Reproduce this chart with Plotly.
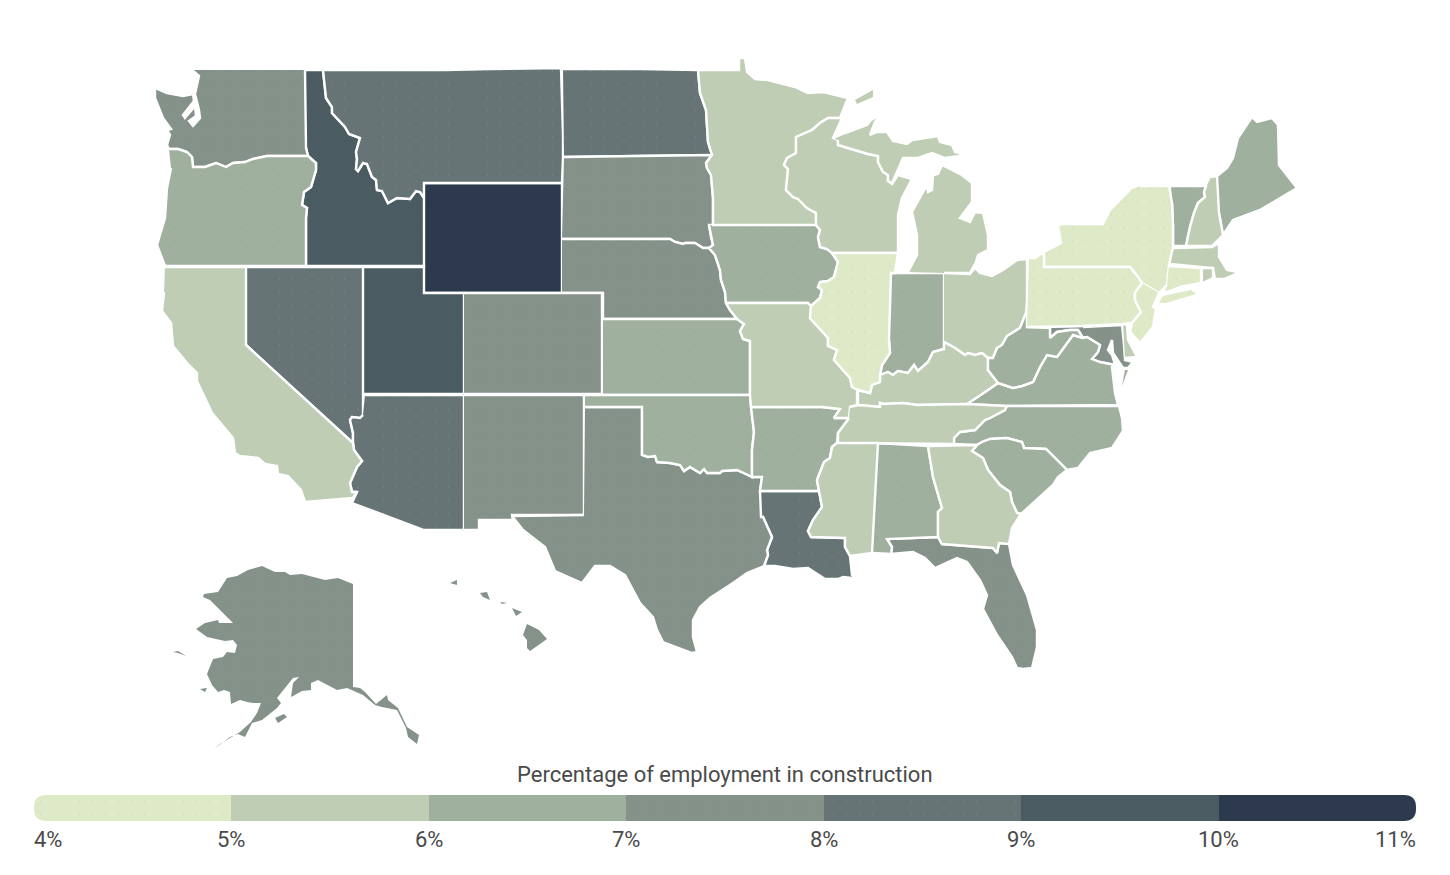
import plotly.graph_objects as go

# no network here so the plotly topojson cant load, outlines are traced by hand from the picture

state_names = ['WY','ID','UT','MT','ND','NV','AZ','LA','MD','WA','SD','NE','CO','NM','TX','FL','AK','HI','OR','IA','KS','OK','IN','VA','NC','SC','AL','AR','ME','VT','DE','CA','MN','WI','MI','OH','MO','KY','TN','MS','GA','WV','MA','NH','RI','IL','NY','PA','NJ','CT']
state_values = [10.4,9.3,9.2,8.5,8.4,8.6,8.2,8.3,7.6,7.5,7.3,7.2,7.6,7.1,7.4,7.5,7.3,7.2,6.7,6.3,6.1,6.2,6.4,6.5,6.4,6.6,6.2,6.1,6.8,6.9,5.5,5.5,5.4,5.6,5.3,5.2,5.6,5.3,5.4,5.7,5.5,6.3,5.4,5.9,5.1,4.8,4.5,4.9,4.7,4.6]

bin_edges = [4,5,6,7,8,9,10,11]
bin_colors = ['#dde9c7','#bfcdb4','#9fb09f','#84928a','#667476','#4a5b62','#2d3a4e']
dot_colors = ['#b9c6b6','','#84968a','#6c7a73','#84928f','#5f7078','']
tick_labels = ['4%','5%','6%','7%','8%','9%','10%','11%']
legend_title = 'Percentage of employment in construction'

# shared borders
wa_or = [(308,156),(267,156),(253,159),(245,162),(233,163),(226,167),(216,163),(205,167),(193,167),(192,157),(187,152),(178,149),(169,149)]
or_id = [(308,156),(316,163),(316,170),(311,187),(304,192),(302,205),(307,208),(306,218)]
id_mt = [(323,70),(326,98),(332,107),(332,113),(345,127),(349,134),(360,138),(356,152),(357,159),(356,169),(358,171),(363,163),(367,164),(372,177),(376,180),(377,190),(382,191),(388,203),(397,198),(410,199),(416,191),(420,192),(424,198)]
mn_nd = [(698,70),(700,93),(706,110),(707,127),(708,142),(712,155)]
mn_sd = [(712,155),(706,163),(707,168),(711,175),(713,198),(713,225)]
sd_ia = [(713,225),(709,225),(711,237),(713,245),(709,248)]
sd_ne = [(562,239),(670,239),(675,242),(683,244),(685,243),(695,243),(703,248),(709,248)]
ia_ne = [(709,248),(715,255),(720,270),(721,280),(725,292),(726,303)]
mn_wi = [(828,118),(820,123),(812,130),(796,137),(796,153),(787,158),(784,165),(788,169),(786,190),(793,197),(798,199),(807,208),(816,213),(816,225)]
ia_wi = [(816,225),(820,230),(818,237),(820,247),(827,249),(832,253)]
ia_il = [(832,253),(838,262),(834,277),(828,281),(820,282),(818,287),(822,290),(820,298),(811,306)]
il_mo = [(811,306),(810,318),(828,338),(828,346),(837,350),(834,360),(850,378),(852,387),(858,390)]
il_ky = [(858,390),(870,393),(872,385),(880,382),(880,375)]
in_ky = [(880,375),(888,372),(893,375),(898,371),(908,373),(914,365),(918,371),(928,362),(933,352),(944,349),(944,342)]
ky_oh = [(944,342),(955,348),(965,355),(968,353),(975,355),(982,353),(988,358)]
ky_wv = [(988,358),(988,370),(998,383)]
ky_va = [(998,383),(985,392),(967,404)]
ky_tn = [(858,405),(880,407),(880,403),(883,404),(903,403),(917,405),(967,404)]
tn_nc = [(1007,406),(1005,410),(990,418),(985,420),(975,430),(960,432),(954,438),(954,444)]
ne_mo = [(726,303),(730,310),(737,319)]
ks_mo = [(737,319),(744,324),(740,331),(743,339),(750,341),(750,395)]
ok_ar = [(751,407),(754,432),(752,450),(752,477)]
ok_tx = [(642,407),(642,455),(648,457),(655,456),(657,462),(670,463),(680,465),(684,471),(690,467),(700,473),(704,469),(707,473),(720,473),(722,471),(737,470),(748,475),(752,477)]
ar_tx = [(752,477),(762,477),(760,491)]
la_tx = [(760,491),(761,517),(763,517),(772,537),(767,550),(768,555),(764,566)]
mo_ar = [(751,407),(822,407),(840,409),(834,418),(849,418)]
ar_tn = [(849,418),(847,421),(838,433),(837,443)]
ar_ms = [(837,443),(832,447),(830,458),(824,462),(817,480),(819,491)]
la_ms = [(819,491),(822,507),(813,520),(808,531),(811,537),(845,538),(845,547),(850,556)]
ms_al = [(878,443),(872,553)]
al_ga = [(928,446),(933,477),(942,508),(938,512),(938,537)]
al_fl = [(938,537),(887,539),(892,547),(891,554)]
ga_fl = [(938,537),(942,544),(993,548),(997,553),(999,543),(1009,544)]
ga_sc = [(977,445),(972,451),(983,458),(988,470),(1000,485),(1010,492),(1012,502),(1017,513),(1021,514)]
nc_sc = [(977,445),(982,442),(990,439),(1007,438),(1022,442),(1024,448),(1046,449),(1067,470)]
va_wv = [(1073,335),(1057,357),(1047,355),(1040,367),(1033,382),(1022,386),(1013,388),(1007,386),(998,383)]
oh_wv = [(988,358),(993,358),(997,348),(1002,345),(1007,336),(1020,328),(1026,313),(1027,302)]
md_wv = [(1050,328),(1050,338),(1057,332),(1070,330),(1078,330),(1083,338)]
md_va = [(1083,338),(1087,337),(1095,342),(1100,345),(1098,352),(1092,359),(1100,362),(1115,365)]
ny_pa = [(1044,267),(1130,267),(1135,273),(1138,277),(1142,283)]
pa_nj = [(1142,283),(1135,293),(1135,300),(1141,312),(1132,323)]
vt_nh = [(1206,186),(1204,192),(1205,197),(1198,203),(1194,213),(1190,227),(1186,246)]
nh_me = [(1217,176),(1219,213),(1223,235)]
ct_ny = [(1169,265),(1167,285),(1164,288),(1165,293)]

# state outlines, None starts another island
WA = [(305,70),(306,148)] + wa_or + [(167,145),(170,135),(167,130),(171,129),(163,118),(155,98),(155,88),(167,93),(183,96),(193,94),(194,101),(183,115),(185,118),(195,106),(196,116),(189,121),(193,126),(200,118),(199,110),(195,94),(197,83),(199,76),(192,70)]
OR = wa_or[::-1] + or_id + [(306,266),(165,266),(157,245),(165,218),(167,188),(171,168)]
ID = [(306,70)] + id_mt + [(424,266),(306,266)] + or_id[::-1] + [(306,148)]
WY = [(424,183),(562,183),(562,293),(424,293)]
MT = [(323,70),(445,70),(490,69),(561,68),(563,135),(563,157),(562,183),(424,183)] + id_mt[::-1]
ND = [(563,69),(640,69)] + mn_nd + [(564,157)]
SD = [(564,157)] + mn_sd + sd_ia[1:] + sd_ne[::-1]
NE = sd_ne + ia_ne + ne_mo + [(603,319),(603,293),(562,293)]
MN = mn_nd[:1] + [(739,70),(739,58),(745,58),(747,72),(755,79),(768,80),(795,87),(808,93),(823,92),(848,98),(840,118)] + mn_wi + [(713,225)] + mn_sd[::-1][1:] + mn_nd[::-1][1:]
WI = mn_wi[::-1] + [(828,118),(842,118),(833,138),(838,140),(838,145),(868,154),(878,156),(878,162),(883,172),(888,175),(888,181),(892,184),(898,175),(912,179),(902,198),(898,215),(898,253),(832,253)] + ia_wi[::-1]
IA = sd_ia[1:] + ia_ne[1:] + [(808,303),(811,306)] + ia_il[::-1] + ia_wi[::-1]
IL = [(832,253),(898,253),(895,273),(891,273),(889,340),(890,353),(882,365)] + il_ky[::-1] + il_mo[::-1] + ia_il[::-1]
IN = [(891,273),(944,273)] + in_ky[::-1] + [(882,365),(890,353),(889,340)]
MI = [(945,273),(970,273),(976,262),(978,255),(988,250),(988,235),(983,213),(975,212),(970,222),(960,218),(972,202),(972,183),(962,175),(942,165),(938,174),(933,175),(932,190),(928,192),(927,185),(912,212),(917,235),(917,255),(908,272),None,
      (833,138),(845,133),(867,125),(871,120),(883,114),(875,122),(870,135),(877,132),(887,132),(893,141),(907,144),(912,140),(932,137),(938,136),(940,142),(952,145),(955,152),(967,155),(945,158),(932,153),(918,158),(903,158),(900,165),(892,183),(888,181),(888,175),(883,172),(878,162),(878,156),(868,154),(838,145),(838,140)]
OH = [(944,273),(970,274),(975,268),(980,273),(992,276),(1003,270),(1017,260),(1027,259)] + oh_wv[::-1] + ky_oh[::-1]
KY = [(858,390),(858,405)] + ky_tn + ky_va[::-1] + ky_wv[::-1] + ky_oh[::-1] + in_ky[::-1] + il_ky[::-1]
TN = [(850,407)] + ky_tn + tn_nc + [(838,443)] + ar_tn[::-1][1:]
MO = [(726,303),(808,303)] + il_mo[:1] + il_mo[1:] + [(857,393),(857,405),(850,407)] + mo_ar[::-1] + [(750,395)] + ks_mo[::-1] + ne_mo[::-1]
KS = [(603,319)] + ks_mo + [(603,395)]
CO = [(464,293),(602,293),(602,394),(464,394)]
UT = [(364,267),(424,267),(424,293),(464,293),(464,394),(364,394)]
NV = [(246,267),(363,267),(363,415),(360,418),(352,417),(350,420),(353,433),(353,443),(246,345)]
CA = [(165,267),(246,267),(246,345),(353,443),(354,450),(362,461),(357,467),(350,483),(352,492),(357,492),(353,498),(305,502),(301,490),(288,476),(278,474),(277,466),(265,464),(258,458),(240,456),(235,453),(233,438),(212,413),(197,381),(197,373),(187,363),(173,346),(171,323),(162,311),(164,292)]
AZ = [(365,395),(464,395),(464,530),(424,530),(352,503),(357,492),(352,492),(350,483),(357,467),(362,461),(354,450),(353,443),(353,433),(350,420),(352,417),(360,418),(363,415)]
NM = [(464,395),(584,395),(584,515),(512,515),(513,520),(479,520),(479,530),(464,530)]
OK = [(585,395),(750,395),(751,407)] + ok_ar[1:] + ok_tx[::-1][1:] + [(642,407),(585,407)]
TX = [(585,407)] + ok_tx + ar_tx[1:] + la_tx[1:] + [(747,573),(733,583),(710,598),(700,607),(693,620),(693,637),(697,652),(692,653),(663,642),(657,630),(653,617),(640,603),(625,575),(610,566),(595,566),(582,583),(555,571),(545,547),(523,530),(512,516),(584,515)]
AR = mo_ar + ar_tn[1:] + ar_ms[1:] + [(760,491)] + ar_tx[::-1][1:] + ok_ar[::-1][1:]
LA = [(760,491)] + la_ms + [(852,575),(854,577),(852,578),(843,577),(838,579),(825,579),(808,568),(793,569),(775,566)] + la_tx[::-1][:-1]
MS = [(837,443),(878,443),(872,553),(850,556)] + la_ms[::-1][1:] + ar_ms[::-1][1:]
AL = [(878,443),(928,446)] + al_ga[1:] + al_fl[1:] + [(872,553)]
GA = [(928,446),(977,445)] + ga_sc[1:] + [(1012,528),(1009,544)] + ga_fl[::-1][1:] + al_ga[::-1][1:]
FL = al_fl[:2] + al_fl[2:] + [(913,552),(925,558),(935,568),(957,558),(967,562),(980,580),(987,595),(983,609),(997,635),(1012,657),(1017,668),(1023,669),(1032,668),(1037,647),(1037,630),(1027,595),(1013,565)] + ga_fl[::-1]
SC = ga_sc + [(1053,485),(1058,477),(1067,470)] + nc_sc[::-1][1:]
NC = [(1007,406),(1119,406),(1122,418),(1123,431),(1112,448),(1090,453),(1078,468),(1067,470)] + nc_sc[::-1][1:] + tn_nc[::-1][:-1]
VA = ky_va[1:] + [(1007,406),(1118,405),(1115,393),(1112,367)] + md_va[::-1] + [(1073,335)] + va_wv[1:] + ky_va[1:2]
WV = [(1027,302),(1027,327)] + md_wv + [(1073,335)] + va_wv[1:] + ky_wv[::-1][1:] + oh_wv[1:-1]
MD = md_wv + md_va[1:] + [(1112,355),(1108,350),(1112,340),(1113,353),(1123,368),(1128,368),(1133,362),(1125,360),(1124,345),(1122,325),(1083,327)]
DE = [(1123,324),(1127,325),(1128,340),(1137,357),(1125,358)]
PA = [(1029,258),(1035,258),(1044,252)] + ny_pa + pa_nj[1:] + [(1130,323),(1123,324),(1083,326),(1027,327)]
NJ = pa_nj + [(1130,332),(1140,343),(1153,327),(1156,308),(1153,307),(1159,293)]
NY = [(1140,186),(1169,186),(1172,203),(1173,225),(1173,247)] + ct_ny[:1] + ct_ny[1:3] + [(1159,293)] + ny_pa[::-1] + [(1044,252),(1061,243),(1058,226),(1062,224),(1103,224),(1110,210),(1130,190)]
VT = [(1171,186)] + vt_nh + [(1173,246),(1173,225),(1172,203)]
NH = [(1211,177),(1217,176)] + nh_me[1:] + [(1220,238),(1212,246)] + vt_nh[::-1] + [(1207,185)]
ME = nh_me[:1] + [(1227,168),(1233,158),(1238,138),(1252,117),(1257,122),(1272,118),(1278,125),(1279,165),(1297,188),(1260,210),(1233,220),(1223,235),(1219,213)]
MA = [(1173,248),(1212,247),(1219,243),(1219,257),(1227,270),(1237,272),(1236,267),(1238,273),(1224,279),(1215,279),(1213,268),(1202,267),(1170,264)]
CT = [(1169,266),(1201,268),(1201,283),(1180,287),(1165,293),(1164,288),(1167,285)]
RI = [(1203,268),(1213,268),(1213,278),(1203,283)]
AK = [(353,584),(353,687),(360,688),(365,692),(376,704),(387,695),(388,700),(398,708),(407,727),(419,735),(417,744),(408,737),(406,728),(397,710),(382,707),(375,705),(363,695),(347,688),(337,690),(318,680),(311,683),(311,690),(302,691),(291,697),(293,683),(299,677),(293,678),(277,698),(281,703),(277,708),(262,720),(252,723),(245,737),(238,734),(230,737),(214,749),(220,744),(240,732),(251,722),(257,713),(261,703),(253,703),(247,702),(240,700),(231,704),(230,692),(224,690),(218,692),(212,685),(207,674),(213,659),(223,657),(227,652),(235,653),(237,645),(233,640),(225,641),(207,637),(196,629),(205,623),(218,620),(219,623),(233,623),(210,600),(203,597),(204,594),(218,592),(227,578),(237,576),(248,570),(262,566),(275,572),(285,572),(290,575),(302,574),(325,580),(338,578),None,
      (173,652),(178,651),(186,656),(178,653),None,(200,689),(207,688),(205,692),None,(275,718),(284,714),(287,717),(278,723)]
HI = [(450,583),(457,580),(457,585),None,(480,593),(487,592),(490,600),(483,597),None,(500,602),(507,603),(502,604),None,(512,608),(522,612),(516,616),None,(527,624),(539,630),(547,639),(530,651),(527,648),(527,640),(523,635)]

outlines = dict(WY=WY,ID=ID,UT=UT,MT=MT,ND=ND,NV=NV,AZ=AZ,LA=LA,MD=MD,WA=WA,SD=SD,NE=NE,CO=CO,NM=NM,TX=TX,FL=FL,AK=AK,HI=HI,OR=OR,IA=IA,KS=KS,OK=OK,IN=IN,VA=VA,NC=NC,SC=SC,AL=AL,AR=AR,ME=ME,VT=VT,DE=DE,CA=CA,MN=MN,WI=WI,MI=MI,OH=OH,MO=MO,KY=KY,TN=TN,MS=MS,GA=GA,WV=WV,MA=MA,NH=NH,RI=RI,IL=IL,NY=NY,PA=PA,NJ=NJ,CT=CT)

# small pieces that a white outline would eat
island_outlines = dict(MI=[(855,100),(873,90),(873,97),(857,104)], NY=[(1159,303),(1163,296),(1191,290),(1196,294),(1166,303)], VA=[(1128,370),(1122,386),(1125,370)])
no_outline = ['AK','HI']

def bin_index(value):
    for i in range(len(bin_colors)):
        if value < bin_edges[i+1]:
            return i
    return len(bin_colors) - 1

def make_pattern(i):
    if dot_colors[i] == '':
        return None
    return dict(shape='.', size=13, solidity=0.008, fgcolor=dot_colors[i], bgcolor=bin_colors[i])

def add_state(fig, name, value, outline, line_width):
    i = bin_index(value)
    xs = [p[0] if p else None for p in outline]
    ys = [p[1] if p else None for p in outline]
    fig.add_trace(go.Scatter(x=xs, y=ys, mode='lines', fill='toself', name=name, fillcolor=bin_colors[i], fillpattern=make_pattern(i), line=dict(color='white', width=line_width), hovertext=f'{name}: {value}%', hoverinfo='text', xaxis='x', yaxis='y'))

fig = go.Figure()

for name, value in zip(state_names, state_values):
    add_state(fig, name, value, outlines[name], 0 if name in no_outline else 2.4)
    if name in island_outlines:
        add_state(fig, name, value, island_outlines[name], 0)

for i in range(len(bin_colors)):
    fig.add_trace(go.Bar(x=[bin_edges[i+1]-bin_edges[i]], y=[0], base=bin_edges[i], orientation='h', width=1, marker=dict(color=bin_colors[i], line=dict(width=0), pattern=make_pattern(i)), xaxis='x2', yaxis='y2', hoverinfo='skip'))

text_font = dict(family='Roboto', size=22, color='#4a4a4a')
annotations = [dict(text=legend_title, x=725, y=774, xref='x', yref='y', showarrow=False, font=text_font)]
for i in range(len(tick_labels)):
    anchor = 'left' if i == 0 else ('right' if i == len(tick_labels)-1 else 'center')
    shift = -2 if i == 0 else (2 if i == len(tick_labels)-1 else 0)
    annotations.append(dict(text=tick_labels[i], x=bin_edges[i], y=839, xref='x2', yref='y', xanchor=anchor, xshift=shift, showarrow=False, font=text_font))

# white corners on the legend bar so the ends look round
corner_paths = ['M34,795 L46,795 Q34,795 34,807 Z', 'M34,821 L46,821 Q34,821 34,809 Z', 'M1416,795 L1404,795 Q1416,795 1416,807 Z', 'M1416,821 L1404,821 Q1416,821 1416,809 Z']
shapes = [dict(type='path', path=p, xref='x', yref='y', fillcolor='white', line=dict(width=0), layer='above') for p in corner_paths]

fig.update_layout(
    width=1450, height=875,
    margin=dict(l=0, r=0, t=0, b=0),
    paper_bgcolor='white', plot_bgcolor='white',
    showlegend=False, barmode='overlay', bargap=0,
    annotations=annotations, shapes=shapes,
    xaxis=dict(range=[0,1450], visible=False, domain=[0,1]),
    yaxis=dict(range=[875,0], visible=False, domain=[0,1]),
    xaxis2=dict(range=[4,11], visible=False, domain=[34/1450,1416/1450], anchor='y2'),
    yaxis2=dict(range=[-0.5,0.5], visible=False, domain=[(875-821)/875,(875-795)/875], anchor='x2'),
)

fig.write_html('out.html', post_script="document.body.style.margin='0'", config={'displayModeBar': False})
